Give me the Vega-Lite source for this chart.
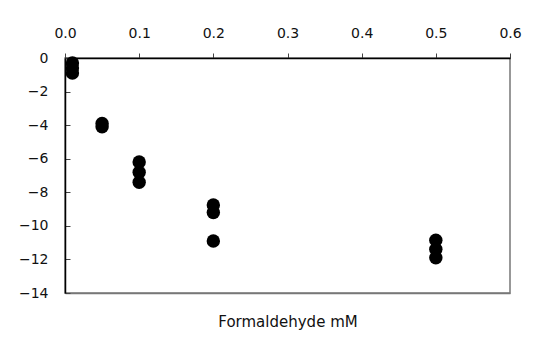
{
  "$schema": "https://vega.github.io/schema/vega-lite/v6.json",
  "width": 445,
  "height": 235,
  "autosize": {"type": "none"},
  "padding": {"left": 65, "top": 58, "right": 38, "bottom": 68},
  "background": "white",
  "config": {
    "view": {"stroke": "#777777", "strokeWidth": 1.5},
    "font": "DejaVu Sans"
  },
  "data": {
    "values": [
      {"conc": 0.01, "value": -0.3},
      {"conc": 0.01, "value": -0.6},
      {"conc": 0.01, "value": -0.9},
      {"conc": 0.05, "value": -3.9},
      {"conc": 0.05, "value": -4.1},
      {"conc": 0.1, "value": -6.2},
      {"conc": 0.1, "value": -6.8},
      {"conc": 0.1, "value": -7.4},
      {"conc": 0.2, "value": -8.75},
      {"conc": 0.2, "value": -9.2},
      {"conc": 0.2, "value": -10.9},
      {"conc": 0.5, "value": -10.85},
      {"conc": 0.5, "value": -11.4},
      {"conc": 0.5, "value": -11.9}
    ]
  },
  "layer": [
    {
      "mark": {"type": "point", "filled": true, "color": "black", "opacity": 1, "size": 180},
      "encoding": {
        "x": {
          "field": "conc", "type": "quantitative",
          "scale": {"domain": [0, 0.6], "nice": false, "zero": false},
          "axis": {
            "orient": "top", "values": [0, 0.1, 0.2, 0.3, 0.4, 0.5, 0.6], "format": ".1f",
            "grid": false, "title": null, "domainColor": "black", "domainWidth": 1.5,
            "tickColor": "#444", "tickSize": 5, "labelPadding": 13, "labelFontSize": 14,
            "labelColor": "#111", "labelFlush": false
          }
        },
        "y": {
          "field": "value", "type": "quantitative",
          "scale": {"domain": [-14, 0], "nice": false},
          "axis": {
            "values": [0, -2, -4, -6, -8, -10, -12, -14], "format": "d",
            "grid": false, "title": null, "domainColor": "black", "domainWidth": 1.5,
            "tickColor": "#444", "tickSize": -5, "labelPadding": 22, "labelFontSize": 14,
            "labelColor": "#111", "labelFlush": false
          }
        }
      }
    },
    {
      "mark": {"type": "rule", "opacity": 0},
      "encoding": {
        "x": {
          "field": "conc", "type": "quantitative",
          "axis": {
            "orient": "bottom", "labels": false, "ticks": false, "grid": false,
            "domainColor": "#777777", "domainWidth": 1.5,
            "title": "Formaldehyde mM", "titleFontSize": 15, "titleFontWeight": "normal",
            "titlePadding": 21, "titleColor": "#111"
          }
        }
      }
    }
  ],
  "resolve": {"axis": {"x": "independent"}}
}
